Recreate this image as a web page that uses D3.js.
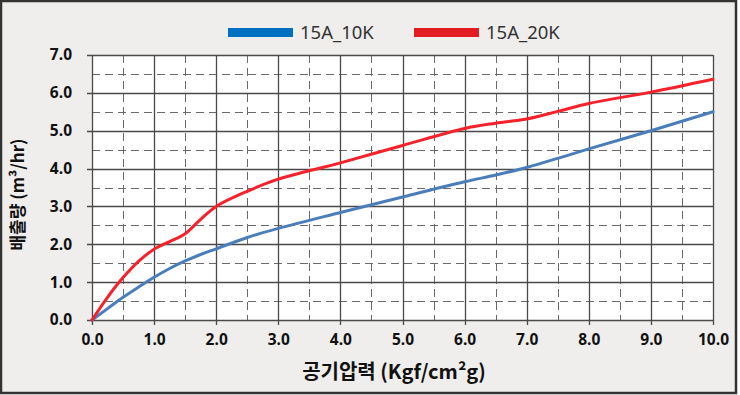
<!DOCTYPE html>
<html><head><meta charset="utf-8">
<script src="https://cdn.jsdelivr.net/npm/d3@7"></script>
<style>
html,body{margin:0;padding:0;background:#fff;}
svg{display:block;}
</style></head>
<body>
<svg id="chart" width="740" height="395"></svg>
<script>
// ---- data ----
const pressure = [0,0.25,0.5,0.75,1.0,1.25,1.5,1.75,2.0,2.5,3,4,5,6,6.5,7,7.5,8,9,10];
const flow10K  = [0,0.30,0.60,0.87,1.13,1.36,1.56,1.73,1.88,2.18,2.42,2.84,3.25,3.65,3.83,4.03,4.27,4.52,5.00,5.50];
const flow20K  = [0,0.60,1.12,1.55,1.87,2.07,2.28,2.66,3.00,3.40,3.72,4.15,4.61,5.06,5.20,5.31,5.51,5.72,6.02,6.36];
const seriesNames = ["15A_10K","15A_20K"];
const xTicks = [0,1,2,3,4,5,6,7,8,9,10];
const yTicks = [0,1,2,3,4,5,6,7];
const xMinor = [0.5,1.5,2.5,3.5,4.5,5.5,6.5,7.5,8.5,9.5];
const yMinor = [0.5,1.5,2.5,3.5,4.5,5.5,6.5];
const xTitle = "공기압력 (Kgf/cm²g)";
const yTitle = "배출량 (m³/hr)";

const lineColors = ["#4A7EBB","#F5222B"];
const legendColors = ["#0070C0","#E31B23"];

const svg = d3.select("#chart");
// background + frame
svg.append("rect").attr("x",1).attr("y",1).attr("width",735).attr("height",392)
  .attr("fill","#EFEEEC").attr("stroke","#333").attr("stroke-width",2.5);

const x = d3.scaleLinear().domain([0,10]).range([92,713]);
const y = d3.scaleLinear().domain([0,7]).range([320,55]);

svg.append("rect").attr("x",x(0)).attr("y",y(7)).attr("width",x(10)-x(0)).attr("height",y(0)-y(7)).attr("fill","#fff");

const g = svg.append("g");
// minor dashed grid
g.selectAll(".vminor").data(xMinor).join("line")
  .attr("x1",d=>Math.round(x(d))+0.5).attr("x2",d=>Math.round(x(d))+0.5)
  .attr("y1",y(7)).attr("y2",y(0))
  .attr("stroke","#6a6a6a").attr("stroke-width",1).attr("stroke-dasharray","8,5");
g.selectAll(".hminor").data(yMinor).join("line")
  .attr("y1",d=>Math.round(y(d))+0.5).attr("y2",d=>Math.round(y(d))+0.5)
  .attr("x1",x(0)).attr("x2",x(10))
  .attr("stroke","#6a6a6a").attr("stroke-width",1).attr("stroke-dasharray","8,5");
// major grid
g.selectAll(".vmajor").data(xTicks).join("line")
  .attr("x1",d=>Math.round(x(d))+0.5).attr("x2",d=>Math.round(x(d))+0.5)
  .attr("y1",y(7)).attr("y2",y(0)+5)
  .attr("stroke","#4a4a4a").attr("stroke-width",1.3);
g.selectAll(".hmajor").data(yTicks).join("line")
  .attr("y1",d=>Math.round(y(d))+0.5).attr("y2",d=>Math.round(y(d))+0.5)
  .attr("x1",x(0)-5).attr("x2",x(10))
  .attr("stroke","#4a4a4a").attr("stroke-width",1.3);

// axis labels via d3 axes
const xAxis = svg.append("g").attr("transform",`translate(0,${y(0)})`)
  .call(d3.axisBottom(x).tickValues(xTicks).tickFormat(d3.format(".1f")).tickSize(0).tickPadding(14));
const yAxis = svg.append("g").attr("transform",`translate(${x(0)},0)`)
  .call(d3.axisLeft(y).tickValues(yTicks).tickFormat(d3.format(".1f")).tickSize(0).tickPadding(20));
[xAxis,yAxis].forEach(a=>{
  a.select(".domain").remove();
  a.selectAll("text").attr("font-family","'Open Sans', 'Noto Sans', sans-serif")
    .attr("font-weight","bold").attr("font-size",15.5).attr("fill","#111");
});

// lines
const line = d3.line().x(d=>x(d[0])).y(d=>y(d[1])).curve(d3.curveCatmullRom.alpha(0.5));
[flow10K,flow20K].forEach((vals,i)=>{
  svg.append("path").datum(pressure.map((p,j)=>[p,vals[j]]))
    .attr("d",line).attr("fill","none").attr("stroke",lineColors[i])
    .attr("stroke-width",3).attr("stroke-linejoin","round").attr("stroke-linecap","round");
});

// legend
const legX = [228,414];
seriesNames.forEach((n,i)=>{
  svg.append("rect").attr("x",legX[i]).attr("y",28).attr("width",65).attr("height",9).attr("fill",legendColors[i]);
  svg.append("text").attr("x",legX[i]+72).attr("y",39).text(n)
    .attr("font-family","'Noto Sans', sans-serif").attr("font-size",18.5).attr("fill","#333");
});

// titles
svg.append("text").attr("x",394).attr("y",379).attr("text-anchor","middle").text(xTitle)
  .attr("font-family","'Noto Sans CJK KR', sans-serif").attr("font-weight","bold").attr("font-size",20).attr("fill","#111");
svg.append("text").attr("transform","translate(24,194.5) rotate(-90)").attr("text-anchor","middle").text(yTitle)
  .attr("font-family","'Noto Sans CJK KR', sans-serif").attr("font-weight","bold").attr("font-size",17).attr("fill","#111");
</script>
</body></html>
